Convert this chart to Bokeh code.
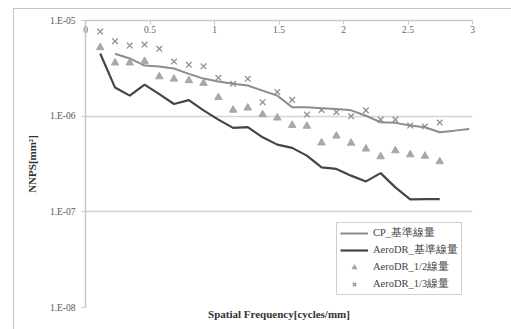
from bokeh.plotting import figure
from bokeh.models import (LinearAxis, FixedTicker, CustomJSTickFormatter, Legend, LegendItem,
                          Range1d, InlineStyleSheet)
from bokeh.embed import file_html
from bokeh.resources import INLINE

# ---- data ----
freq = [0.114, 0.229, 0.343, 0.458, 0.572, 0.686, 0.801, 0.915, 1.030, 1.144, 1.258, 1.373,
        1.487, 1.602, 1.716, 1.830, 1.945, 2.059, 2.174, 2.288, 2.402, 2.517, 2.631, 2.746,
        2.860, 2.974]

cp_std = [4.49e-6, 4.01e-6, 3.38e-6, 3.30e-6, 3.15e-6, 2.77e-6, 2.47e-6, 2.30e-6, 2.18e-6,
          2.09e-6, 1.85e-6, 1.64e-6, 1.24e-6, 1.24e-6, 1.21e-6, 1.19e-6, 1.15e-6, 1.01e-6,
          8.63e-7, 8.51e-7, 7.98e-7, 7.66e-7, 6.79e-7, 7.06e-7, 7.36e-7]
aero_std = [4.52e-6, 1.99e-6, 1.64e-6, 2.14e-6, 1.70e-6, 1.34e-6, 1.47e-6, 1.15e-6, 9.2e-7,
            7.55e-7, 7.69e-7, 6.01e-7, 5.04e-7, 4.66e-7, 3.87e-7, 2.92e-7, 2.81e-7, 2.39e-7,
            2.08e-7, 2.54e-7, 1.80e-7, 1.35e-7, 1.36e-7, 1.36e-7]
aero_half = [5.22e-6, 3.61e-6, 3.61e-6, 3.75e-6, 2.59e-6, 2.45e-6, 2.36e-6, 2.21e-6, 1.57e-6,
             1.16e-6, 1.22e-6, 1.04e-6, 9.6e-7, 8.04e-7, 7.88e-7, 5.27e-7, 6.22e-7, 5.24e-7,
             4.55e-7, 3.78e-7, 4.37e-7, 3.96e-7, 3.83e-7, 3.35e-7]
aero_third = [7.67e-6, 6.07e-6, 5.47e-6, 5.61e-6, 5.06e-6, 3.72e-6, 3.44e-6, 3.32e-6, 2.52e-6,
              2.18e-6, 2.46e-6, 1.40e-6, 1.79e-6, 1.48e-6, 1.04e-6, 1.16e-6, 1.10e-6, 9.97e-7,
              1.15e-6, 9.2e-7, 9.2e-7, 7.98e-7, 7.79e-7, 8.57e-7]

series_names = ["CP_基準線量", "AeroDR_基準線量", "AeroDR_1/2線量", "AeroDR_1/3線量"]
x_ticks = [0, 0.5, 1, 1.5, 2, 2.5, 3]
y_ticks = [1e-8, 1e-7, 1e-6, 1e-5]

SERIF = "Liberation Serif"

frame_css = InlineStyleSheet(css="""
:host::before { content: ""; position: absolute; left: 13px; top: 8px; right: 0; bottom: 0;
  border-left: 1px solid #c4c4c4; border-top: 1px solid #c4c4c4; z-index: 5; pointer-events: none; }
""")

p = figure(width=511, height=329, y_axis_type="log", x_axis_location="above",
           x_range=Range1d(0, 3), y_range=Range1d(1e-8, 1e-5),
           output_backend="svg", toolbar_location=None,
           min_border_left=85, min_border_top=20, min_border_right=39, min_border_bottom=22,
           stylesheets=[frame_css])
p.outline_line_color = None
p.background_fill_color = "white"
p.border_fill_color = "white"

# x axis (top, labels inside)
xa = p.xaxis[0]
xa.ticker = FixedTicker(ticks=x_ticks, minor_ticks=[])
xa.axis_line_color = "#c8c8c8"
xa.axis_line_width = 1.5
xa.major_tick_line_color = "#c8c8c8"
xa.major_tick_in = 4
xa.major_tick_out = 0
xa.major_label_standoff = -12
xa.major_label_text_font = SERIF
xa.major_label_text_font_size = "9.5px"
xa.major_label_text_color = "#666666"

# y axis
ya = p.yaxis[0]
ya.ticker = FixedTicker(ticks=y_ticks, minor_ticks=[])
ya.formatter = CustomJSTickFormatter(code="""
const e = Math.round(Math.log10(tick));
const a = Math.abs(e);
return "1.E" + (e < 0 ? "-" : "+") + (a < 10 ? "0" + a : "" + a);
""")
ya.axis_line_color = "#c8c8c8"
ya.axis_line_width = 1.5
ya.major_tick_line_color = "#c8c8c8"
ya.major_tick_in = 0
ya.major_tick_out = 4
ya.major_label_standoff = 6
ya.major_label_text_font = SERIF
ya.major_label_text_font_size = "9.5px"
ya.major_label_text_color = "#555555"
ya.axis_label = "NNPS[mm²]"
ya.axis_label_text_font = SERIF
ya.axis_label_text_font_style = "bold"
ya.axis_label_text_font_size = "11px"
ya.axis_label_text_color = "#333333"
ya.axis_label_standoff = 9

# bottom title axis
xb = LinearAxis(ticker=FixedTicker(ticks=[]), axis_label="Spatial Frequency[cycles/mm]",
                axis_line_color=None, major_tick_line_color=None, minor_tick_line_color=None,
                major_label_text_font_size="0px")
xb.axis_label_text_font = SERIF
xb.axis_label_text_font_style = "bold"
xb.axis_label_text_font_size = "11px"
xb.axis_label_text_color = "#333333"
xb.axis_label_standoff = 0
p.add_layout(xb, "below")

p.xgrid.grid_line_color = None
p.ygrid.ticker = FixedTicker(ticks=y_ticks)
p.ygrid.grid_line_color = "#d4d4d4"
p.ygrid.grid_line_width = 1.5

r_cp = p.line(freq[1:], cp_std, line_color="#8c8c8c", line_width=2)
r_ad = p.line(freq[:len(aero_std)], aero_std, line_color="#454545", line_width=2.2)
r_half = p.scatter(freq[:len(aero_half)], aero_half, marker="triangle", size=7.5,
                   fill_color="#a8a8a8", line_color="#a8a8a8")
r_third = p.scatter(freq[:len(aero_third)], aero_third, marker="x", size=8,
                    line_color="#8f8f8f", line_width=1.3)

legend = Legend(items=[LegendItem(label=series_names[0], renderers=[r_cp]),
                       LegendItem(label=series_names[1], renderers=[r_ad]),
                       LegendItem(label=series_names[2], renderers=[r_half]),
                       LegendItem(label=series_names[3], renderers=[r_third])],
                location=(251, 12))
legend.label_text_font = SERIF
legend.label_text_font_size = "10.5px"
legend.label_text_color = "#444444"
legend.border_line_color = "#a0a0a0"
legend.border_line_width = 1
legend.padding = 3
legend.spacing = 3
legend.margin = 0
legend.glyph_width = 28
legend.glyph_height = 12
legend.label_height = 12
legend.label_standoff = 5
legend.background_fill_alpha = 1
p.add_layout(legend)

open("out.html", "w").write(file_html(p, INLINE))
